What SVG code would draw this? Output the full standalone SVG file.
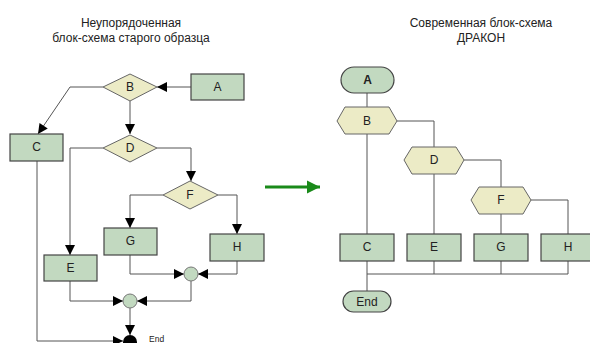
<svg xmlns="http://www.w3.org/2000/svg" width="590" height="343" viewBox="0 0 590 343">
<style>
text{font-family:"Liberation Sans",Arial,sans-serif;fill:#222}
.t{font-size:12px;text-anchor:middle}
.l{font-size:12px;text-anchor:middle;dominant-baseline:central}
.s{font-size:8.5px}
.r{fill:#c2d9c0;stroke:#444;stroke-width:1.2}
.d{fill:#ecebc6;stroke:#666;stroke-width:1}
.c{fill:#c2d9c0;stroke:#777;stroke-width:1}
.w{fill:none;stroke:#555;stroke-width:1}
.a{marker-end:url(#ah)}
</style>
<defs>
<marker id="ah" viewBox="0 0 10 10" refX="10" refY="5" markerWidth="12" markerHeight="10" markerUnits="userSpaceOnUse" orient="auto"><path d="M0,0L10,5L0,10z" fill="#000"/></marker>
<marker id="gh" viewBox="0 0 10 10" refX="10" refY="5" markerWidth="13" markerHeight="16" markerUnits="userSpaceOnUse" orient="auto"><path d="M0,0L10,5L0,10z" fill="#1a8a1a"/></marker>
</defs>
<text class="t" x="131" y="27">Неупорядоченная</text>
<text class="t" x="131" y="42">блок-схема старого образца</text>
<text class="t" x="481" y="27">Современная блок-схема</text>
<text class="t" x="481" y="42">ДРАКОН</text>
<g id="connectors">
<path class="w a" d="M191,87H157"/>
<path class="w a" d="M103,87H70L38,134"/>
<path class="w a" d="M130,101V134"/>
<path class="w a" d="M103,148H70V255"/>
<path class="w a" d="M157,148H191V181"/>
<path class="w a" d="M163,195H130V228"/>
<path class="w a" d="M218,195H237V234"/>
<path class="w a" d="M130,255V274H184"/>
<path class="w a" d="M237,261V274H198"/>
<path class="w a" d="M70,281V301H123"/>
<path class="w a" d="M191,281V301H137"/>
<path class="w a" d="M130,308V335"/>
<path class="w a" d="M37,161V341H123"/>
<path d="M265,187H320" stroke="#1a8a1a" stroke-width="3" fill="none" marker-end="url(#gh)"/>
<path class="w" d="M367,93V234"/>
<path class="w" d="M397,121H434V147"/>
<path class="w" d="M434,174V234"/>
<path class="w" d="M464,160H501V187"/>
<path class="w" d="M501,214V234"/>
<path class="w" d="M531,200H568V234"/>
<path class="w" d="M367,261V291"/>
<path class="w" d="M367,274H568"/>
<path class="w" d="M434,261V274M501,261V274M568,261V274"/>
</g>
<g id="A1"><rect class="r" x="191" y="74" width="53" height="26"/><text class="l" x="217.5" y="87">A</text></g>
<g id="B1"><path class="d" d="M103,87L130,74L157,87L130,101z"/><text class="l" x="130" y="87">B</text></g>
<g id="C1"><rect class="r" x="10" y="134" width="53" height="27"/><text class="l" x="36.5" y="147">C</text></g>
<g id="D1"><path class="d" d="M103,148L130,135L157,148L130,162z"/><text class="l" x="130" y="148">D</text></g>
<g id="F1"><path class="d" d="M163,195L190,181L218,195L190,209z"/><text class="l" x="190" y="195">F</text></g>
<g id="G1"><rect class="r" x="104" y="228" width="53" height="27"/><text class="l" x="130.5" y="241">G</text></g>
<g id="H1"><rect class="r" x="210" y="234" width="54" height="27"/><text class="l" x="237" y="247">H</text></g>
<g id="E1"><rect class="r" x="44" y="255" width="53" height="26"/><text class="l" x="70.5" y="268">E</text></g>
<g id="J1"><circle class="c" cx="191" cy="274" r="7"/></g>
<g id="J2"><circle class="c" cx="130" cy="301" r="7"/></g>
<g id="End1"><circle cx="130" cy="342" r="7" fill="#000"/><text class="s" x="149" y="342">End</text></g>
<g id="A2"><rect class="r" x="341" y="67" width="53" height="26" rx="13"/><text class="l" x="367.5" y="80" font-weight="bold">A</text></g>
<g id="B2"><path class="d" d="M337,121L345,107H389L397,121L389,134H345z"/><text class="l" x="367" y="121">B</text></g>
<g id="D2"><path class="d" d="M404,160L412,147H456L464,160L456,174H412z"/><text class="l" x="434" y="160">D</text></g>
<g id="F2"><path class="d" d="M471,200L479,187H523L531,200L523,214H479z"/><text class="l" x="501" y="200">F</text></g>
<g id="C2"><rect class="r" x="340" y="234" width="54" height="27"/><text class="l" x="367" y="247">C</text></g>
<g id="E2"><rect class="r" x="407" y="234" width="54" height="27"/><text class="l" x="434" y="247">E</text></g>
<g id="G2"><rect class="r" x="474" y="234" width="54" height="27"/><text class="l" x="501" y="247">G</text></g>
<g id="H2"><rect class="r" x="541" y="234" width="50" height="27"/><text class="l" x="568" y="247">H</text></g>
<g id="End2"><rect class="r" x="343" y="291" width="48" height="21" rx="10.5"/><text class="l" x="367" y="301.5" font-size="9px">End</text></g>
</svg>
